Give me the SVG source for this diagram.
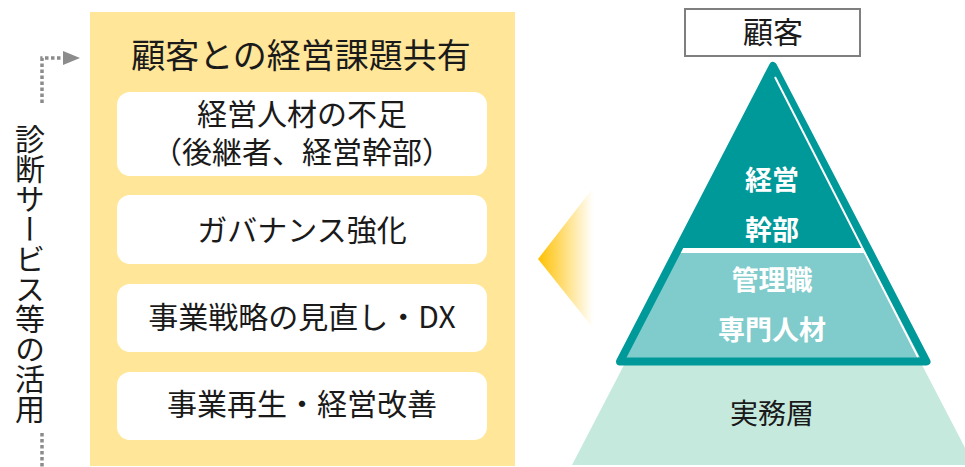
<svg xmlns="http://www.w3.org/2000/svg" width="965" height="467" viewBox="0 0 965 467">
<style>
text{font-family:"Noto Sans CJK JP","Noto Sans",sans-serif;dominant-baseline:central;text-anchor:middle;fill:#1a1a1a}
.box{fill:#ffffff}
.lbl{font-size:30px}
.pw{font-size:27px;font-weight:bold;fill:#ffffff}
.dot{fill:none;stroke:#8c8c8c;stroke-width:3.5;stroke-dasharray:3.5 2.5}
</style>
<defs>
<linearGradient id="chev" x1="0" y1="0" x2="1" y2="0">
<stop offset="0" stop-color="#FFC000"/>
<stop offset="1" stop-color="#FFC000" stop-opacity="0"/>
</linearGradient>
</defs>

<g id="panel">
<rect x="90" y="12" width="425" height="454" fill="#FFE699"/>
<text x="301" y="53" style="font-size:34px">顧客との経営課題共有</text>
</g>

<g id="issue1">
<rect class="box" x="117" y="92" width="370" height="84" rx="13"/>
<text class="lbl" x="302" y="112">経営人材の不足</text>
<text class="lbl" x="302" y="150">（後継者、経営幹部）</text>
</g>
<g id="issue2">
<rect class="box" x="117" y="195" width="370" height="69" rx="13"/>
<text class="lbl" x="302" y="228">ガバナンス強化</text>
</g>
<g id="issue3">
<rect class="box" x="117" y="284" width="370" height="68" rx="13"/>
<text class="lbl" x="302" y="315">事業戦略の見直し・DX</text>
</g>
<g id="issue4">
<rect class="box" x="117" y="372" width="370" height="68" rx="13"/>
<text class="lbl" x="302" y="402">事業再生・経営改善</text>
</g>

<g id="diagnosis">
<text x="30" y="124" style="font-size:30px;writing-mode:vertical-rl;text-anchor:start;dominant-baseline:auto">診断サービス等の活用</text>
</g>

<g id="connectors">
<path class="dot" d="M42 103 V58 H63"/>
<polygon points="63,51 80,58 63,65" fill="#8c8c8c"/>
<path class="dot" d="M42 433 V467"/>
<polygon points="538,259 593,188 593,328" fill="url(#chev)"/>
</g>

<g id="customer">
<rect x="685" y="9" width="175" height="47" fill="#ffffff" stroke="#7f7f7f" stroke-width="2"/>
<text x="773" y="30" style="font-size:30px">顧客</text>
</g>

<g id="practical">
<polygon points="624,365 922,365 974,465 572,465" fill="#C6E9DD"/>
<text x="772" y="412" style="font-size:28px">実務層</text>
</g>

<g id="middle">
<polygon points="676,253 870,253 926,361 620,361" fill="#80CBCB"/>
<text class="pw" x="772" y="278">管理職</text>
<text class="pw" x="772" y="328">専門人材</text>
</g>

<g id="top">
<polygon points="773,66 867,248 679,248" fill="#009999"/>
<text class="pw" x="772" y="178">経営</text>
<text class="pw" x="772" y="228">幹部</text>
</g>

<g id="pyramid-frame">
<polygon points="773,66 926.5,361.5 620,361.5" fill="none" stroke="#009999" stroke-width="8" stroke-linejoin="round"/>
<line x1="775" y1="77" x2="918" y2="357" stroke="#ffffff" stroke-width="2"/>
</g>
</svg>
